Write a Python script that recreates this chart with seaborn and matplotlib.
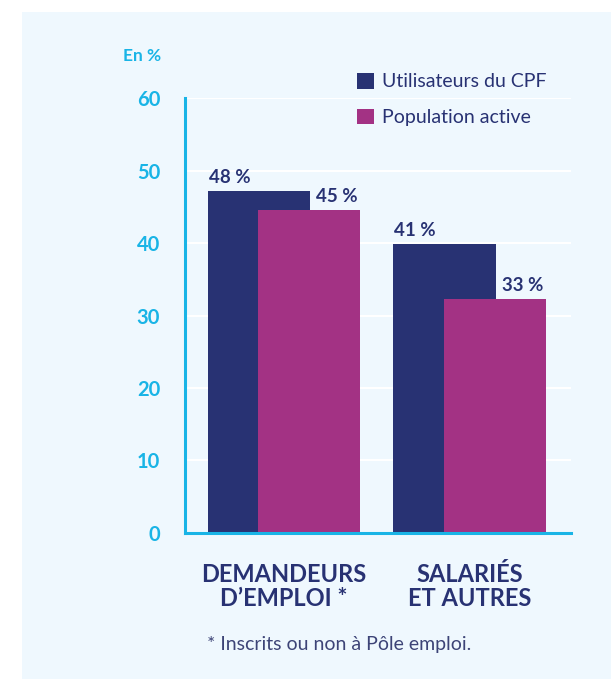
import matplotlib
matplotlib.use('Agg')
import matplotlib.pyplot as plt
from matplotlib.patches import Patch, Rectangle
import seaborn as sns
import pandas as pd

# ============================================================
# DATA
# ============================================================
categories = ["DEMANDEURS\nD\u2019EMPLOI *", "SALARI\u00c9S\nET AUTRES"]
series_names = ["Utilisateurs du CPF", "Population active"]
cpf_values = [47.2, 39.9]          # hauteur des barres
active_values = [44.6, 32.3]
cpf_labels = ["48 %", "41 %"]
active_labels = ["45 %", "33 %"]
y_ticks = [0, 10, 20, 30, 40, 50, 60]
footnote = "* Inscrits ou non \u00e0 P\u00f4le emploi."
unit_label = "En %"

# ============================================================
# STYLE
# ============================================================
NAVY = "#283273"
PINK = "#a33284"
CYAN = "#19b4e6"
PANEL = "#eff8fe"
FONT = ["Lato", "DejaVu Sans"]

sns.set_style("white")
plt.rcParams['font.family'] = FONT

OFFSET = 0.135
BAR_W = 0.55

pos = list(range(len(categories)))
df_cpf = pd.DataFrame({"x": [p - OFFSET for p in pos], "val": cpf_values})
df_act = pd.DataFrame({"x": [p + OFFSET for p in pos], "val": active_values})

fig = plt.figure(figsize=(6.11, 6.79), dpi=100)
fig.patch.set_facecolor("white")
fig.patches.append(Rectangle((22 / 611, 0), 1, 1 - 12 / 679, transform=fig.transFigure,
                             facecolor=PANEL, edgecolor="none", zorder=-10))

ax = fig.add_axes([185 / 611, 1 - 532.7 / 679, 386 / 611, 434.4 / 679])
ax.set_facecolor("none")

sns.barplot(data=df_cpf, x="x", y="val", native_scale=True, width=BAR_W,
            color=NAVY, saturation=1, linewidth=0, ax=ax, zorder=3)
sns.barplot(data=df_act, x="x", y="val", native_scale=True, width=BAR_W,
            color=PINK, saturation=1, linewidth=0, ax=ax, zorder=4)

# value labels: navy aligned on the left edge, pink on the right edge
for p, v, lab in zip(pos, cpf_values, cpf_labels):
    ax.text(p - OFFSET - BAR_W / 2 + 0.005, v + 0.7, lab, ha="left", va="bottom",
            color=NAVY, fontsize=13.5, fontweight="bold", zorder=5)
for p, v, lab in zip(pos, active_values, active_labels):
    ax.text(p + OFFSET + BAR_W / 2 - 0.012, v + 0.7, lab, ha="right", va="bottom",
            color=NAVY, fontsize=13.5, fontweight="bold", zorder=5)

ax.set_xlim(-0.534, 1.547)
ax.set_ylim(0, 60)
ax.set_yticks(y_ticks)
ax.set_xticks(pos)
ax.set_xticklabels(categories, fontsize=17, fontweight="bold", color=NAVY,
                   linespacing=1.05)
ax.tick_params(axis="y", length=0, pad=18, labelsize=14.5, labelcolor=CYAN)
ax.tick_params(axis="x", length=0, pad=22)
for t in ax.get_yticklabels():
    t.set_fontweight("bold")
ax.set_xlabel("")
ax.set_ylabel("")

ax.yaxis.grid(True, color="white", linewidth=1.5, zorder=0)
ax.set_axisbelow(True)
for s in ["top", "right"]:
    ax.spines[s].set_visible(False)
for s in ["left", "bottom"]:
    ax.spines[s].set_color(CYAN)
    ax.spines[s].set_linewidth(2.2)
    ax.spines[s].set_zorder(6)

ax.text(-0.062, 1.097, unit_label, transform=ax.transAxes, ha="right", va="center",
        color=CYAN, fontsize=12.5, fontweight="bold")

handles = [Patch(facecolor=c, edgecolor="none") for c in [NAVY, PINK]]
leg = fig.legend(handles, series_names, loc="upper left",
                 bbox_to_anchor=(357 / 611, 1 - 73 / 679), frameon=False,
                 fontsize=14, handlelength=0.85, handleheight=0.85,
                 handletextpad=0.45, labelspacing=0.95, borderpad=0, borderaxespad=0)
for t in leg.get_texts():
    t.set_color(NAVY)

fig.text(207 / 611, 1 - 650 / 679, footnote, ha="left", va="baseline",
         color="#3d4477", fontsize=14)

fig.savefig("out.png", dpi=100)
